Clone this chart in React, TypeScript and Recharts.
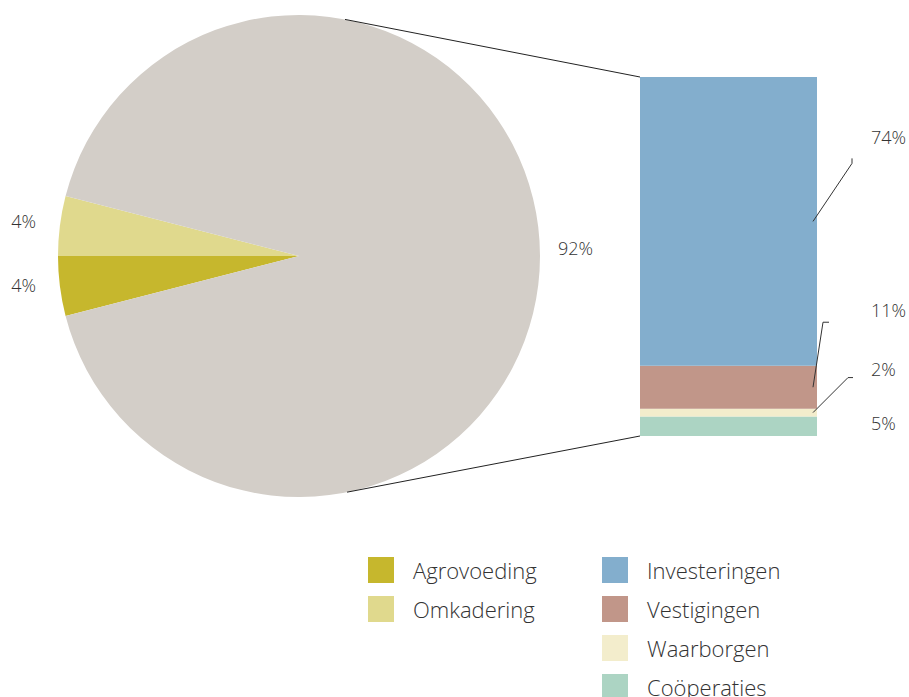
import React from "react"
import { Bar, BarChart, Cell, LabelList, Pie, PieChart, XAxis, YAxis } from "recharts"

// pie: share of the total
const pieNames = ["Omkadering", "Agrovoeding", "Overig"]
const pieValues = [4, 4, 92]

// bar: breakdown of the 92%
const barNames = ["Investeringen", "Vestigingen", "Waarborgen", "Coöperaties"]
const barValues = [74, 11, 2, 5]

const legendLeft = ["Agrovoeding", "Omkadering"]
const legendRight = ["Investeringen", "Vestigingen", "Waarborgen", "Coöperaties"]

const COLORS: Record<string, string> = {
  Omkadering: "#e0d98d",
  Agrovoeding: "#c6b72d",
  Overig: "#d3cec8",
  Investeringen: "#83aecd",
  Vestigingen: "#c19689",
  Waarborgen: "#f3edcc",
  "Coöperaties": "#acd4c3",
}

const W = 909
const H = 697
const CHART_H = 520
const PIE = { cx: 299, cy: 256, r: 241, start: 165.6 }
const BAR_MARGIN = { top: 77, right: 92, bottom: 84, left: 640 }
const TEXT = "#333"
const FONT = "'Open Sans', 'DejaVu Sans', sans-serif"
const RAD = Math.PI / 180

// small nudges for the pie labels
const pieLabelNudge: Record<string, [number, number]> = {
  Omkadering: [-3, -2],
  Agrovoeding: [-3, -4],
  Overig: [-3, -8],
}

// label placement for each bar segment, relative to the segment middle
const barLabelLayout: Record<string, { dy: number; knee?: [number, number]; tick?: [number, number] }> = {
  Investeringen: { dy: -84, knee: [35, -58], tick: [35, -63] },
  Vestigingen: { dy: -77, knee: [6, -65], tick: [12, -65] },
  Waarborgen: { dy: -44, knee: [31, -35], tick: [36, -35] },
  "Coöperaties": { dy: -3 },
}

const pieData = pieNames.map((name, i) => ({ name, value: pieValues[i] }))
const barRow: Record<string, number | string> = { name: "totaal" }
barNames.forEach((n, i) => (barRow[n] = barValues[i]))
const barData = [barRow]

const piePoint = (deg: number) => ({
  x: PIE.cx + PIE.r * Math.cos(deg * RAD),
  y: PIE.cy - PIE.r * Math.sin(deg * RAD),
})

function PieLabel(props: any) {
  const { cx, cy, midAngle, outerRadius, value, name } = props
  const r = outerRadius + 21
  const nudge = pieLabelNudge[name] || [0, 0]
  const x = cx + r * Math.cos(-midAngle * RAD) + nudge[0]
  const y = cy + r * Math.sin(-midAngle * RAD) + nudge[1]
  return (
    <text x={x} y={y} textAnchor={x > cx ? "start" : "end"} dominantBaseline="central"
      fill={TEXT} fontSize={18} fontWeight={300} fontFamily={FONT}>
      {value}%
    </text>
  )
}

function segmentLabel(name: string) {
  return (props: any) => {
    const { x, y, width, height, value } = props
    const lay = barLabelLayout[name]
    const right = x + width
    const mid = y + height / 2
    const els: React.ReactNode[] = []
    if (lay.knee && lay.tick) {
      els.push(
        <polyline key="l" fill="none" stroke="#333" strokeWidth={1}
          points={`${right - 4},${mid} ${right + lay.knee[0]},${mid + lay.knee[1]} ${right + lay.tick[0]},${mid + lay.tick[1]}`} />
      )
    }
    if (name === "Investeringen") {
      const p = piePoint(79)
      els.push(<line key="c" x1={p.x} y1={p.y} x2={x} y2={y} stroke="#222" strokeWidth={1} />)
    }
    if (name === "Coöperaties") {
      const p = piePoint(-78.5)
      els.push(<line key="c" x1={p.x} y1={p.y} x2={x} y2={y + height} stroke="#222" strokeWidth={1} />)
    }
    els.push(
      <text key="t" x={right + 54} y={mid + lay.dy} dominantBaseline="central"
        fill={TEXT} fontSize={18} fontWeight={300} fontFamily={FONT}>
        {value}%
      </text>
    )
    return <g>{els}</g>
  }
}

function LegendItem({ name }: { name: string }) {
  return (
    <div style={{ display: "flex", alignItems: "center", height: 26, marginBottom: 13 }}>
      <div style={{ width: 26, height: 26, background: COLORS[name] }} />
      <span style={{ marginLeft: 19, fontSize: 22, fontWeight: 300, color: TEXT, whiteSpace: "nowrap" }}>{name}</span>
    </div>
  )
}

export default function App() {
  const stackOrder = [...barNames].reverse()
  return (
    <div style={{ position: "absolute", left: 0, top: 0, width: W, height: H, overflow: "hidden", background: "#fff", fontFamily: FONT }}>
      <div style={{ position: "absolute", left: 0, top: 0 }}>
        <PieChart width={W} height={CHART_H} margin={{ top: 0, right: 0, bottom: 0, left: 0 }}>
          <Pie data={pieData} dataKey="value" nameKey="name" cx={PIE.cx} cy={PIE.cy} outerRadius={PIE.r}
            startAngle={PIE.start} endAngle={PIE.start + 360} stroke="none" labelLine={false}
            label={PieLabel} isAnimationActive={false}>
            {pieData.map((d) => <Cell key={d.name} fill={COLORS[d.name]} />)}
          </Pie>
        </PieChart>
      </div>
      <div style={{ position: "absolute", left: 0, top: 0 }}>
        <BarChart width={W} height={CHART_H} data={barData} margin={BAR_MARGIN} barCategoryGap={0}>
          <XAxis dataKey="name" hide />
          <YAxis hide domain={[0, 92]} />
          {stackOrder.map((n) => (
            <Bar key={n} dataKey={n} stackId="a" fill={COLORS[n]} isAnimationActive={false}>
              <LabelList dataKey={n} content={segmentLabel(n)} />
            </Bar>
          ))}
        </BarChart>
      </div>
      <div style={{ position: "absolute", left: 368, top: 557 }}>
        {legendLeft.map((n) => <LegendItem key={n} name={n} />)}
      </div>
      <div style={{ position: "absolute", left: 602, top: 557 }}>
        {legendRight.map((n) => <LegendItem key={n} name={n} />)}
      </div>
    </div>
  )
}
